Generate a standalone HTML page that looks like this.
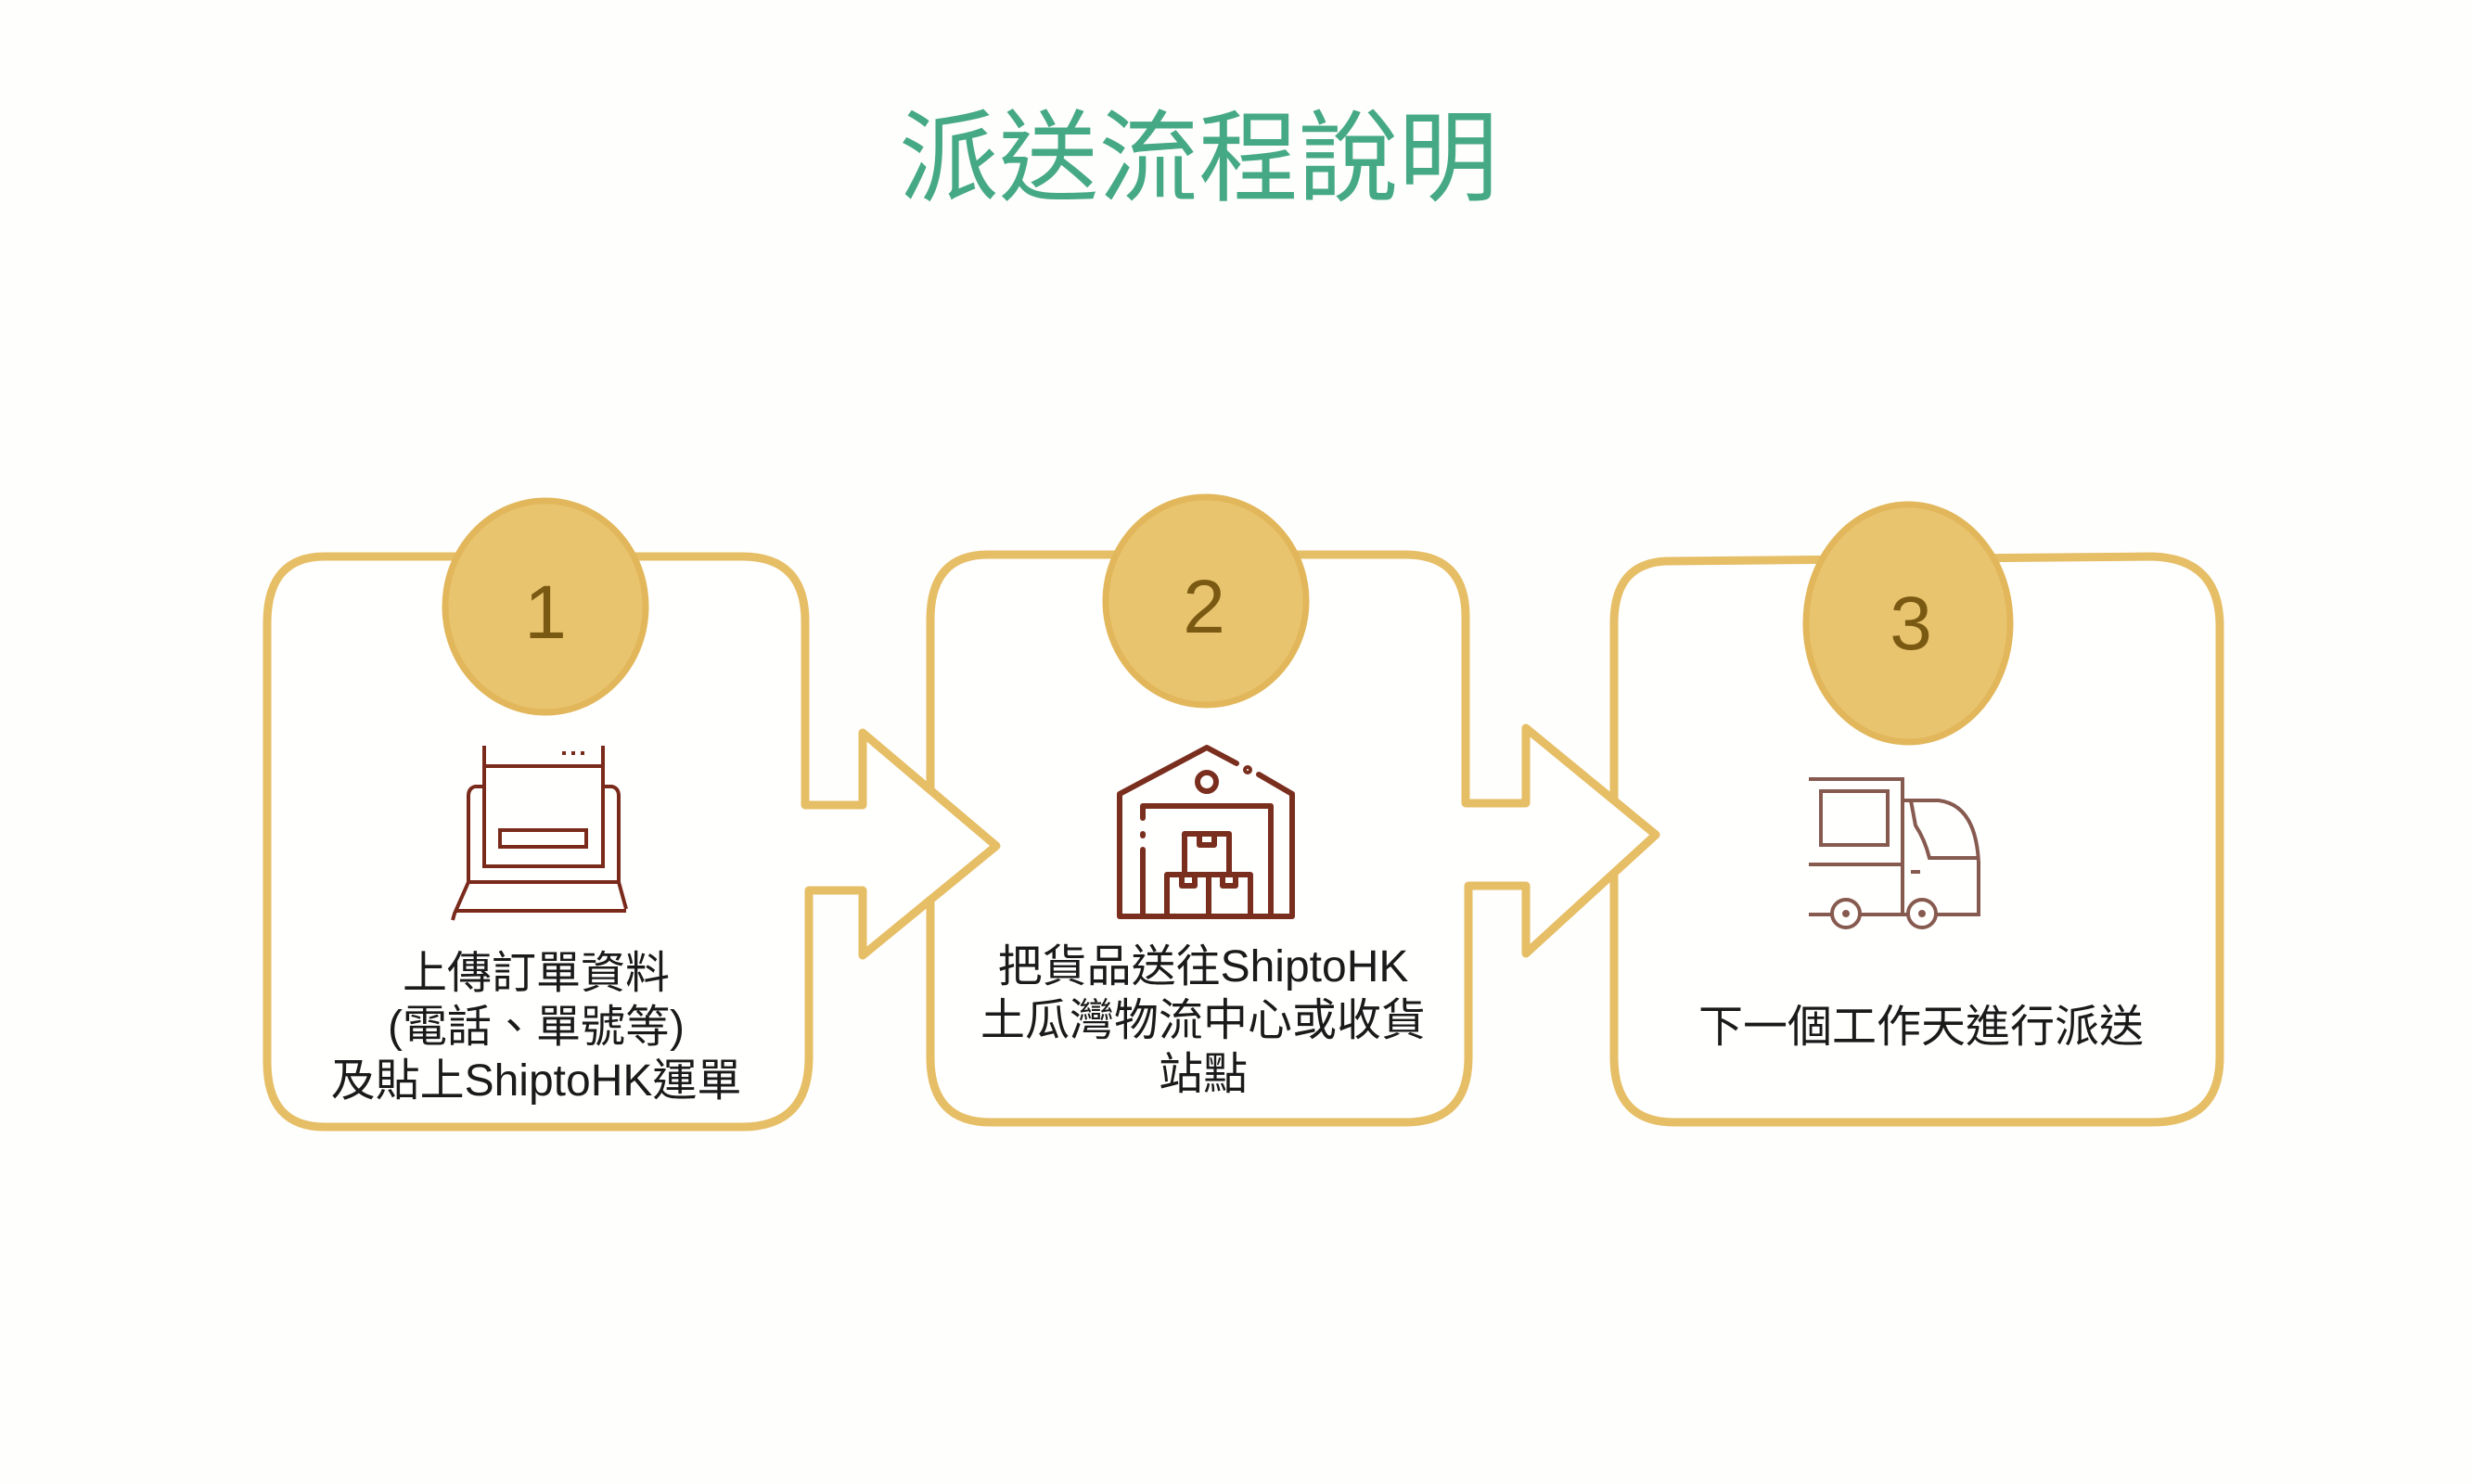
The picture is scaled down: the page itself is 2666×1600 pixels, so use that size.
<!DOCTYPE html>
<html><head><meta charset="utf-8"><style>
html,body{margin:0;padding:0;background:#fefefc;}
svg{display:block}
text{font-family:"Liberation Sans","Noto Sans CJK TC",sans-serif;}
</style></head><body>
<svg width="2666" height="1600" viewBox="0 0 2666 1600" xmlns="http://www.w3.org/2000/svg">
<rect width="2666" height="1600" fill="#fefefc"/>
<text x="1292" y="208" font-size="108" fill="#46a986" text-anchor="middle" textLength="646" lengthAdjust="spacingAndGlyphs">派送流程說明</text>

<g fill="#fffffe" stroke="#e6be66" stroke-width="9" stroke-linejoin="round">
<!-- box3 -->
<path d="M1800 605 L2320 600 Q2393 602 2393 675 L2393 1140 Q2393 1210 2320 1210 L1805 1210 Q1740 1210 1740 1140 L1740 672 Q1740 605 1800 605 Z"/>
<!-- box2 with arrow -->
<path d="M1065 598 L1515 598 Q1580 598 1580 665 L1580 866 L1645 866 L1645 785 L1785 900 L1645 1028 L1645 955 L1583 955 L1583 1140 Q1583 1210 1515 1210 L1068 1210 Q1003 1210 1003 1140 L1003 668 Q1003 598 1065 598 Z"/>
<!-- box1 with arrow -->
<path d="M350 600 L800 600 Q868 600 868 670 L868 868 L930 868 L930 790 L1074 912 L930 1030 L930 960 L872 960 L872 1140 Q872 1215 800 1215 L350 1215 Q288 1215 288 1145 L288 672 Q288 600 350 600 Z"/>
</g>
<g fill="#e9c46f" stroke="#e2b75b" stroke-width="7">
<ellipse cx="588" cy="654" rx="108" ry="114"/>
<ellipse cx="1300" cy="648" rx="108" ry="112"/>
<ellipse cx="2057" cy="672" rx="110" ry="128"/>
</g>
<g fill="#7a5a12" font-size="82" text-anchor="middle">
<text x="588" y="688">1</text>
<text x="1298" y="682">2</text>
<text x="2060" y="700">3</text>
</g>

<!-- laptop icon -->
<g fill="none" stroke="#7a2a1a" stroke-width="4">
<path d="M522 804 L522 934 L650 934 L650 804"/>
<path d="M522 826 L650 826"/>
<path d="M522 848 L512 848 Q505 850 505 858 L505 951 L667 951 L667 858 Q667 850 660 848 L650 848"/>
<rect x="539" y="895" width="93" height="18"/>
<path d="M505 951 L490 985 L488 992 M667 951 L675 980 M490 982 L675 982"/>
<path d="M606 812 h4 M616 812 h4 M626 812 h4"/>
</g>

<!-- warehouse icon -->
<g fill="none" stroke="#7a2e1e" stroke-width="6" stroke-linecap="round" stroke-linejoin="round">
<path d="M1333 823 L1301 806 L1207 856 L1207 988 L1393 988 L1393 856 L1357 835"/>
<circle cx="1345" cy="830" r="2"/>
<circle cx="1301" cy="843" r="10"/>
<path d="M1232 916 L1232 988 M1232 899 L1232 901 M1232 882 L1232 869 L1370 869 L1370 988"/>
<rect x="1277" y="899" width="48" height="44"/>
<rect x="1258" y="943" width="45" height="45"/>
<rect x="1303" y="943" width="45" height="45"/>
<path d="M1293 899 v12 h16 v-12 M1274 943 v12 h14 v-12 M1318 943 v12 h14 v-12"/>
</g>

<!-- truck icon -->
<g fill="none" stroke="#875a50" stroke-width="4">
<path d="M1950 840 L2051 840 L2051 986 M1950 932 L2051 932 M1950 986 L1975 986 M2005 986 L2057 986 M2088 986 L2133 986 L2133 930 Q2130 868 2090 863 L2051 863"/>
<rect x="1963" y="853" width="72" height="58"/>
<path d="M2060 863 L2065 890 Q2075 905 2080 925 L2133 925"/>
<path d="M2060 940 h10"/>
<circle cx="1990" cy="985" r="15"/><circle cx="2072" cy="985" r="15"/>
<circle cx="1990" cy="985" r="2"/><circle cx="2072" cy="985" r="2"/>
</g>

<g fill="#1a1a1a" font-size="48" text-anchor="middle">
<text x="578" y="1065">上傳訂單資料</text>
<text x="578" y="1123">(電話、單號等)</text>
<text x="578" y="1181">及貼上ShiptoHK運單</text>
<text x="1297" y="1058">把貨品送往ShiptoHK</text>
<text x="1297" y="1116">土瓜灣物流中心或收貨</text>
<text x="1297" y="1174">站點</text>
<text x="2071" y="1123">下一個工作天進行派送</text>
</g>
</svg>
</body></html>
